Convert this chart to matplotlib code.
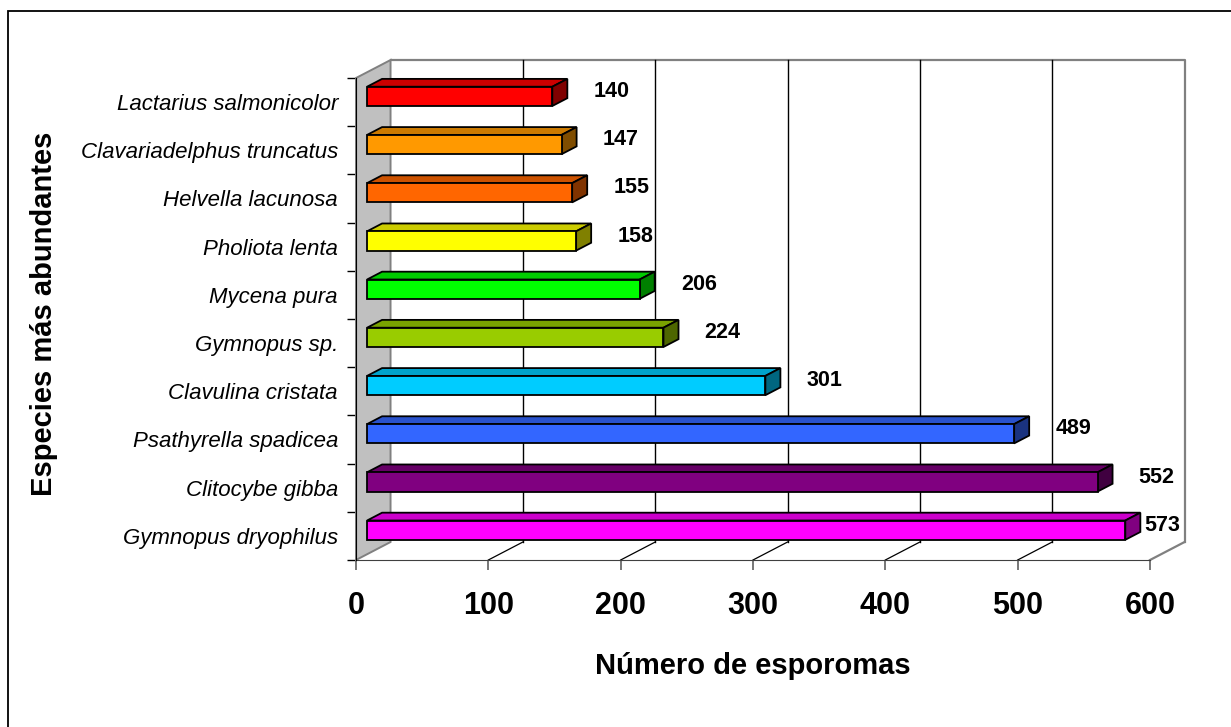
import numpy as np
import matplotlib
matplotlib.use("Agg")
import matplotlib.pyplot as plt
from matplotlib.patches import Polygon, Rectangle
from matplotlib.colors import to_rgb

plt.rcParams['font.family'] = ['Liberation Sans', 'DejaVu Sans']

# bottom to top, as stacked on the chart
species = ['Gymnopus dryophilus', 'Clitocybe gibba', 'Psathyrella spadicea',
           'Clavulina cristata', 'Gymnopus sp.', 'Mycena pura', 'Pholiota lenta',
           'Helvella lacunosa', 'Clavariadelphus truncatus', 'Lactarius salmonicolor']
counts = [573, 552, 489, 301, 224, 206, 158, 155, 147, 140]
bar_colors = ['#FF00FF', '#800080', '#3366FF', '#00CCFF', '#99CC00',
              '#00FF00', '#FFFF00', '#FF6600', '#FF9900', '#FF0000']
xticks = [0, 100, 200, 300, 400, 500, 600]

# oblique depth of the 3d box, in data units
DX = 26.1
DY = 0.373
F1, F2 = 0.32, 0.755   # bar front / back as fraction of the depth
BAR_H = 0.40


def shade(c, k):
    r, g, b = to_rgb(c)
    return (r * k, g * k, b * k)


fig = plt.figure(figsize=(12.31, 7.27), dpi=100)
fig.patches.append(Rectangle((7.5 / 1231, -0.1), 1.2, (727 - 11) / 727 + 0.1,
                             transform=fig.transFigure, fill=False,
                             edgecolor='black', linewidth=1.3))

ax = fig.add_axes([356 / 1231, (727 - 560) / 727, 794 / 1231, 482 / 727])
ax.set_xlim(0, 600)
ax.set_ylim(0, 10)
ax.patch.set_visible(False)
for s in ['top', 'right']:
    ax.spines[s].set_visible(False)
ax.spines['left'].set_color('black')
ax.spines['bottom'].set_color('#404040')
ax.spines['left'].set_zorder(6)

# back wall with gridlines
ax.plot([DX, 600 + DX, 600 + DX], [10 + DY, 10 + DY, DY], color='#808080',
        lw=1.6, clip_on=False, zorder=1)
for t in xticks[1:-1]:
    ax.plot([t + DX, t + DX], [DY, 10 + DY], color='black', lw=1.0,
            clip_on=False, zorder=1)
    ax.plot([t, t + DX], [0, DY], color='black', lw=0.9, clip_on=False, zorder=1)
ax.plot([600, 600 + DX], [0, DY], color='#808080', lw=1.6, clip_on=False, zorder=1)

# left wall
wall = Polygon([(0, 10), (DX, 10 + DY), (DX, DY), (0, 0)], closed=True,
               facecolor='#C0C0C0', edgecolor='#808080', lw=1.4,
               clip_on=False, zorder=2)
ax.add_patch(wall)

# 3d bars
d = (F2 - F1)
for i, (v, c) in enumerate(zip(counts, bar_colors)):
    x0 = F1 * DX
    x1 = v + F1 * DX
    yc = i + 0.5 + F1 * DY
    yb, yt = yc - BAR_H / 2, yc + BAR_H / 2
    front = Polygon([(x0, yb), (x1, yb), (x1, yt), (x0, yt)],
                    facecolor=c, edgecolor='black', lw=1.3, clip_on=False, zorder=4)
    top = Polygon([(x0, yt), (x1, yt), (x1 + d * DX, yt + d * DY), (x0 + d * DX, yt + d * DY)],
                  facecolor=shade(c, 0.8), edgecolor='black', lw=1.3, clip_on=False, zorder=4)
    side = Polygon([(x1, yb), (x1, yt), (x1 + d * DX, yt + d * DY), (x1 + d * DX, yb + d * DY)],
                   facecolor=shade(c, 0.5), edgecolor='black', lw=1.3, clip_on=False, zorder=4)
    for p in (top, side, front):
        ax.add_patch(p)
    ax.text(min(v + 53, 609), i + 0.5 + 0.22, str(v), ha='center', va='center',
            fontsize=15.5, fontweight='bold', clip_on=False, zorder=5)

# axes ticks and labels
ax.set_xticks(xticks)
ax.set_xticklabels([str(t) for t in xticks], fontsize=22, fontweight='bold')
ax.tick_params(axis='x', direction='out', length=7.5, width=1.2, color='#606060', pad=15)
ax.set_yticks(np.arange(0, 11))
ax.set_yticklabels([])
ax.tick_params(axis='y', which='major', direction='out', length=6.5, width=1.0, color='black')
ax.set_yticks(np.arange(10) + 0.5, minor=True)
ax.set_yticklabels(species, minor=True, fontsize=16, fontstyle='italic')
ax.tick_params(axis='y', which='minor', length=0, pad=13)

ax.set_xlabel('Número de esporomas', fontsize=21, fontweight='bold')
ax.xaxis.set_label_coords(0.5, -0.19)
ax.set_ylabel('Especies más abundantes', fontsize=21, fontweight='bold')
ax.yaxis.set_label_coords(-0.375, 0.51)

fig.savefig('out.png', dpi=100)
